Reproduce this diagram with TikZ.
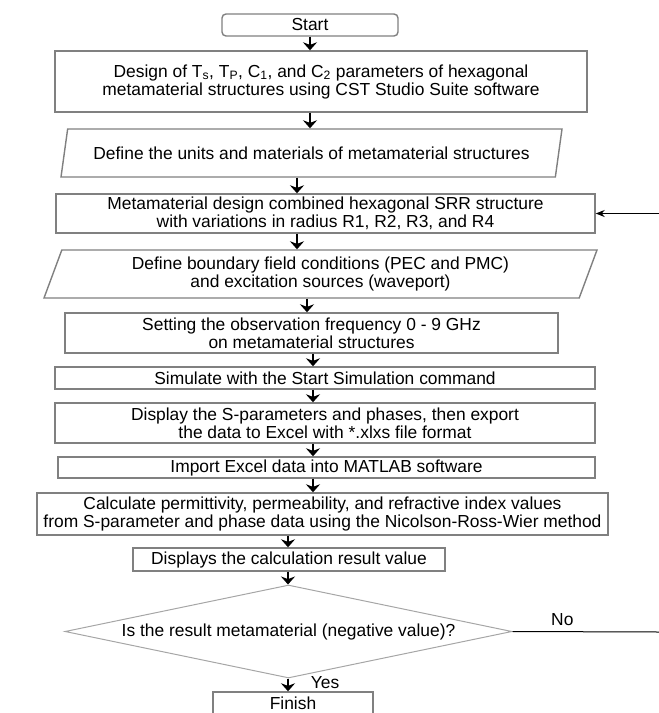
\documentclass[tikz,border=0pt]{standalone}
\usepackage{fontspec}
\setmainfont{Liberation Sans}
\usetikzlibrary{arrows.meta,shapes.geometric}
\begin{document}
\begin{tikzpicture}[x=1pt,y=-1pt,
box/.style={draw=black!50,line width=1.4pt,fill=white,align=center,inner sep=0pt,font=\fontsize{17.4}{18}\selectfont},
para/.style={box,trapezium,trapezium left angle=62.5,trapezium right angle=117.5,trapezium stretches body},
flow/.style={-{Stealth[length=8pt,width=14pt]},line width=2.4pt}]
\clip(0,0)rectangle(659,713);
\node[box,rounded corners=4pt,minimum width=176,minimum height=22](start)at(310,25){Start};
\node[box,minimum width=532,minimum height=61](design)at(321,81.5){Design of T\textsubscript{s}, T\textsubscript{P}, C\textsubscript{1}, and C\textsubscript{2} parameters of hexagonal\\metamaterial structures using CST Studio Suite software};
\node[para,minimum width=501,minimum height=48](units)at(311.5,153){Define the units and materials of metamaterial structures};
\node[box,minimum width=539,minimum height=39](combined)at(325.5,213.5){Metamaterial design combined hexagonal SRR structure\\with variations in radius R1, R2, R3, and R4};
\node[para,minimum width=553,minimum height=48](boundary)at(320.5,274){Define boundary field conditions (PEC and PMC)\\and excitation sources (waveport)};
\node[box,minimum width=493,minimum height=40](freq)at(311.5,333){Setting the observation frequency 0 - 9 GHz\\on metamaterial structures};
\node[box,minimum width=540,minimum height=22](simulate)at(325,378){Simulate with the Start Simulation command};
\node[box,minimum width=540,minimum height=40](export)at(325,423){Display the S-parameters and phases, then export\\the data to Excel with *.xlxs file format};
\node[box,minimum width=537,minimum height=21](import)at(326.5,467.5){Import Excel data into MATLAB software};
\node[box,minimum width=571,minimum height=42](calc)at(322.5,514){Calculate permittivity, permeability, and refractive index values\\from S-parameter and phase data using the Nicolson-Ross-Wier method};
\node[box,minimum width=312,minimum height=23](result)at(289,559.5){Displays the calculation result value};
\node[draw=black!35,line width=1pt,diamond,minimum width=447,minimum height=93,inner sep=0pt](decide)at(288.5,631.5){};
\node[font=\fontsize{17.4}{18}\selectfont](question)at(decide){Is the result metamaterial (negative value)?};
\node[box,minimum width=160,minimum height=22](finish)at(293,703){Finish};
\foreach \a/\b/\x in {start/design/310,design/units/310,units/combined/297,combined/boundary/297,boundary/freq/307,freq/simulate/313,simulate/export/313,export/import/313,import/calc/313,calc/result/288,result/decide/288,decide/finish/288}
{\coordinate(c)at(\x,0);\draw[flow](c|-\a.south)--(c|-\b.north);}
\coordinate(back)at(659,213.5);
\draw[-{Stealth[length=9pt,width=7pt]},line width=1pt](back)--(combined.east);
\coordinate(noend)at(659,632);
\draw[line width=1pt](decide.east)--(noend)node[pos=.34,above=2pt,font=\fontsize{17.4}{18}\selectfont]{No};
\node[font=\fontsize{17.4}{18}\selectfont](yes)at(325,683){Yes};
\end{tikzpicture}
\end{document}
